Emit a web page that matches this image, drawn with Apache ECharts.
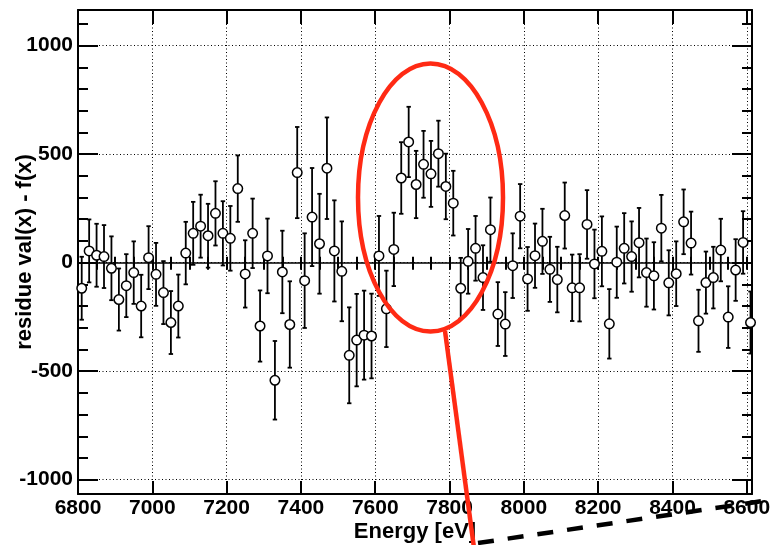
<!DOCTYPE html>
<html>
<head>
<meta charset="utf-8">
<script src="https://cdn.jsdelivr.net/npm/echarts@6.0.0/dist/echarts.min.js"></script>
<style>
html,body{margin:0;padding:0;background:#fff;}
#chart{width:773px;height:545px;}
</style>
</head>
<body>
<div id="chart"></div>
<script>
// ---- data ----
var energy = [6810,6830,6850,6870,6890,6910,6930,6950,6970,6990,
  7010,7030,7050,7070,7090,7110,7130,7150,7170,7190,
  7210,7230,7250,7270,7290,7310,7330,7350,7370,7390,
  7410,7430,7450,7470,7490,7510,7530,7550,7570,7590,
  7610,7630,7650,7670,7690,7710,7730,7750,7770,7790,
  7810,7830,7850,7870,7890,7910,7930,7950,7970,7990,
  8010,8030,8050,8070,8090,8110,8130,8150,8170,8190,
  8210,8230,8250,8270,8290,8310,8330,8350,8370,8390,
  8410,8430,8450,8470,8490,8510,8530,8550,8570,8590,8610];
var residue = [-118,54,34,28,-26,-170,-106,-46,-200,23,
  -54,-138,-276,-200,44,135,168,124,227,135,
  112,341,-52,135,-292,31,-542,-43,-285,415,
  -83,210,87,435,54,-40,-427,-357,-334,-338,
  31,-213,61,390,556,360,453,409,502,351,
  274,-118,6,66,-69,152,-237,-283,-14,214,
  -75,32,98,-31,-78,217,-116,-116,176,-6,
  52,-282,2,66,28,92,-46,-61,159,-93,
  -51,188,90,-268,-92,-69,58,-251,-34,93,-276];
var errors = [145,145,145,145,147,143,145,144,144,145,
  145,145,145,145,144,145,145,147,148,148,
  149,153,155,160,164,172,181,190,199,210,
  218,226,230,234,233,230,221,213,205,195,
  184,176,169,165,162,155,154,152,152,151,
  149,140,149,149,149,148,147,147,149,148,
  147,148,150,150,151,152,153,155,158,158,
  161,160,164,162,162,160,157,155,153,150,
  149,149,145,143,143,142,144,142,142,144,143];
var xTicks = [6800,7000,7200,7400,7600,7800,8000,8200,8400,8600];
var yTicks = [-1000,-500,0,500,1000];
var xMin = 6800, xMax = 8614, yMin = -1066, yMax = 1164;

// minor tick positions (axis decoration)
var xMinor = []; for (var t = 6800; t <= 8600; t += 50) xMinor.push(t);
var yMinor = []; for (var u = -1000; u <= 1100; u += 100) yMinor.push(u);

var pts = [], bars = [];
for (var i = 0; i < energy.length; i++) {
  pts.push([energy[i], residue[i]]);
  bars.push([energy[i], residue[i] - errors[i], residue[i] + errors[i]]);
}

var FONT = "'Liberation Sans', Arial, Helvetica, sans-serif";
var dotted = {color:'#000', width:1, type:[1,2.5]};

function tickAxis(pos, values, len, opts) {
  var isY = (pos === 'left' || pos === 'right');
  var a = {
    type:'value', position:pos, min:isY ? yMin : xMin, max:isY ? yMax : xMax,
    axisLine:{show:false},
    axisTick:{show:true, inside:true, length:len, customValues:values, lineStyle:{color:'#000', width:2}},
    axisLabel:{show:false},
    splitLine:{show:false},
    axisPointer:{show:false}
  };
  if (opts) for (var k in opts) a[k] = opts[k];
  return a;
}

var chart = echarts.init(document.getElementById('chart'), null, {renderer:'canvas'});
var option = {
  animation:false,
  backgroundColor:'#fff',
  grid:{left:78, right:21, top:10, bottom:51, containLabel:false, outerBoundsMode:'none'},
  xAxis:[
    {
      type:'value', position:'bottom', min:xMin, max:xMax,
      name:'Energy [eV]', nameLocation:'middle', nameGap:27, nameMoveOverlap:false,
      nameTextStyle:{fontFamily:FONT, fontWeight:'bold', fontSize:22, color:'#000'},
      axisLine:{show:true, onZero:false, lineStyle:{color:'#000', width:2}},
      axisTick:{show:true, inside:true, length:13, customValues:xTicks, lineStyle:{color:'#000', width:2}},
      axisLabel:{show:true, customValues:xTicks, margin:4, fontFamily:FONT, fontWeight:'bold', fontSize:21, color:'#000',
        formatter:function(v){return String(v);}},
      splitLine:{show:true, lineStyle:dotted}
    },
    tickAxis('bottom', xMinor, 6),
    tickAxis('top', xTicks, 14, {axisLine:{show:true, onZero:false, lineStyle:{color:'#000', width:2}}}),
    tickAxis('top', xMinor, 7)
  ],
  yAxis:[
    {
      type:'value', position:'left', min:yMin, max:yMax,
      name:'residue val(x) - f(x)', nameLocation:'middle', nameGap:42, nameMoveOverlap:false,
      nameTextStyle:{fontFamily:FONT, fontWeight:'bold', fontSize:22, color:'#000'},
      axisLine:{show:true, onZero:false, lineStyle:{color:'#000', width:2}},
      axisTick:{show:true, inside:true, length:20, customValues:yTicks, lineStyle:{color:'#000', width:2}},
      axisLabel:{show:true, customValues:yTicks, margin:5, fontFamily:FONT, fontWeight:'bold', fontSize:21, color:'#000',
        formatter:function(v){return String(v);}},
      splitLine:{show:true, lineStyle:dotted}
    },
    tickAxis('left', yMinor, 10),
    tickAxis('right', yTicks, 20, {axisLine:{show:true, onZero:false, lineStyle:{color:'#000', width:2}}}),
    tickAxis('right', yMinor, 10)
  ],
  series:[
    {
      type:'custom', xAxisIndex:0, yAxisIndex:0, z:3,
      data:bars, encode:{x:0, y:[1,2]}, clip:false,
      renderItem:function(params, api){
        var x = api.value(0), lo = api.value(1), hi = api.value(2);
        var p1 = api.coord([x, hi]), p2 = api.coord([x, lo]);
        var c = 2.2, st = {stroke:'#000', lineWidth:1.8};
        return {type:'group', children:[
          {type:'line', shape:{x1:p1[0], y1:p1[1], x2:p2[0], y2:p2[1]}, style:st},
          {type:'line', shape:{x1:p1[0]-c, y1:p1[1], x2:p1[0]+c, y2:p1[1]}, style:st},
          {type:'line', shape:{x1:p2[0]-c, y1:p2[1], x2:p2[0]+c, y2:p2[1]}, style:st}
        ]};
      },
      markLine:{
        silent:true, symbol:['none','none'], label:{show:false},
        lineStyle:{color:'#000', width:1.6, type:'solid'},
        data:[{yAxis:0}]
      }
    },
    {
      type:'scatter', xAxisIndex:0, yAxisIndex:0, z:5,
      data:pts, symbol:'circle', symbolSize:9.5, clip:false,
      itemStyle:{color:'#fff', borderColor:'#000', borderWidth:1.5, opacity:1}
    }
  ],
  graphic:[
    {type:'ellipse', z:100, shape:{cx:430.5, cy:197.5, rx:72.5, ry:134},
      style:{fill:null, stroke:'#ff2a14', lineWidth:4.5}},
    {type:'line', z:100, shape:{x1:445, y1:331, x2:474, y2:548},
      style:{stroke:'#ff2a14', lineWidth:4.5}},
    {type:'line', z:100, shape:{x1:478, y1:543, x2:770, y2:500},
      style:{stroke:'#000', lineWidth:4.5, lineDash:[16,14]}}
  ]
};
chart.setOption(option);
</script>
</body>
</html>
